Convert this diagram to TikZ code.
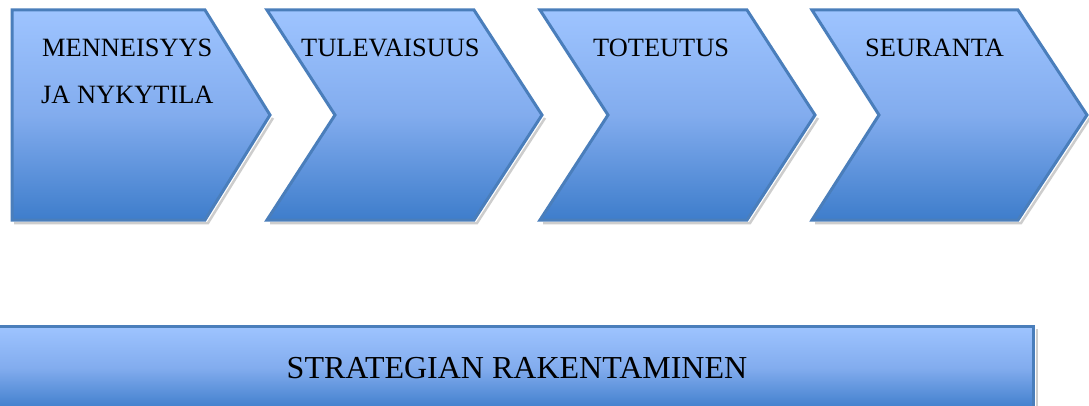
\documentclass[tikz,border=0pt]{standalone}
\usepackage{fontspec}
\setmainfont{Liberation Serif}
\definecolor{fillTop}{RGB}{158,196,255}
\definecolor{fillMid}{RGB}{130,172,238}
\definecolor{fillBot}{RGB}{62,125,203}
\definecolor{edgeBlue}{RGB}{74,126,187}
\definecolor{shadowGrey}{RGB}{205,205,205}
\tikzset{
  stagefill/.style={top color=fillTop, bottom color=fillBot, middle color=fillMid},
  stageedge/.style={draw=edgeBlue, line width=3pt, line join=miter},
  stageshadow/.style={draw=shadowGrey, line width=2.5pt, line join=miter},
  stagetext/.style={anchor=base west, inner sep=0pt, font=\fontsize{26.4}{30}\selectfont},
  bartext/.style={anchor=base, inner sep=0pt, font=\fontsize{32}{36}\selectfont},
}
\begin{document}
\begin{tikzpicture}[x=1pt,y=-1pt]
\useasboundingbox (0,0) rectangle (1089,406);
\clip (0,0) rectangle (1089,406);
\fill[white] (0,0) rectangle (1089,406);

% first stage: pentagon arrow
\draw[stageshadow] (14,223) -- (208,223) -- (273,118);
\path[stagefill, stageedge] (12,10) -- (205,10) -- (270,115) -- (205,220) -- (12,220) -- cycle;

% remaining stages: chevrons
\foreach \xl/\xr/\xt/\xn in {267/474/542/335, 540/747/815/608, 812/1018/1087/879}{
  \draw[stageshadow] (\xl+3,223) -- (\xr+3,223) -- (\xt+3,118);
  \path[stagefill, stageedge] (\xl,10) -- (\xr,10) -- (\xt,115) -- (\xr,220) -- (\xl,220) -- (\xn,115) -- cycle;
}

% bottom bar
\draw[stageshadow] (1037,329) -- (1037,410);
\path[stagefill, stageedge] (-10,326) rectangle (1033,410);

% labels
\node[stagetext] (past) at (42,57) {MENNEISYYS};
\node[stagetext] (pastb) at (41,104) {JA NYKYTILA};
\node[stagetext] (future) at (301,57) {TULEVAISUUS};
\node[stagetext] (impl) at (593,57) {TOTEUTUS};
\node[stagetext] (follow) at (865,57) {SEURANTA};
\node[bartext] (strategy) at (517,378) {STRATEGIAN RAKENTAMINEN};
\end{tikzpicture}
\end{document}
